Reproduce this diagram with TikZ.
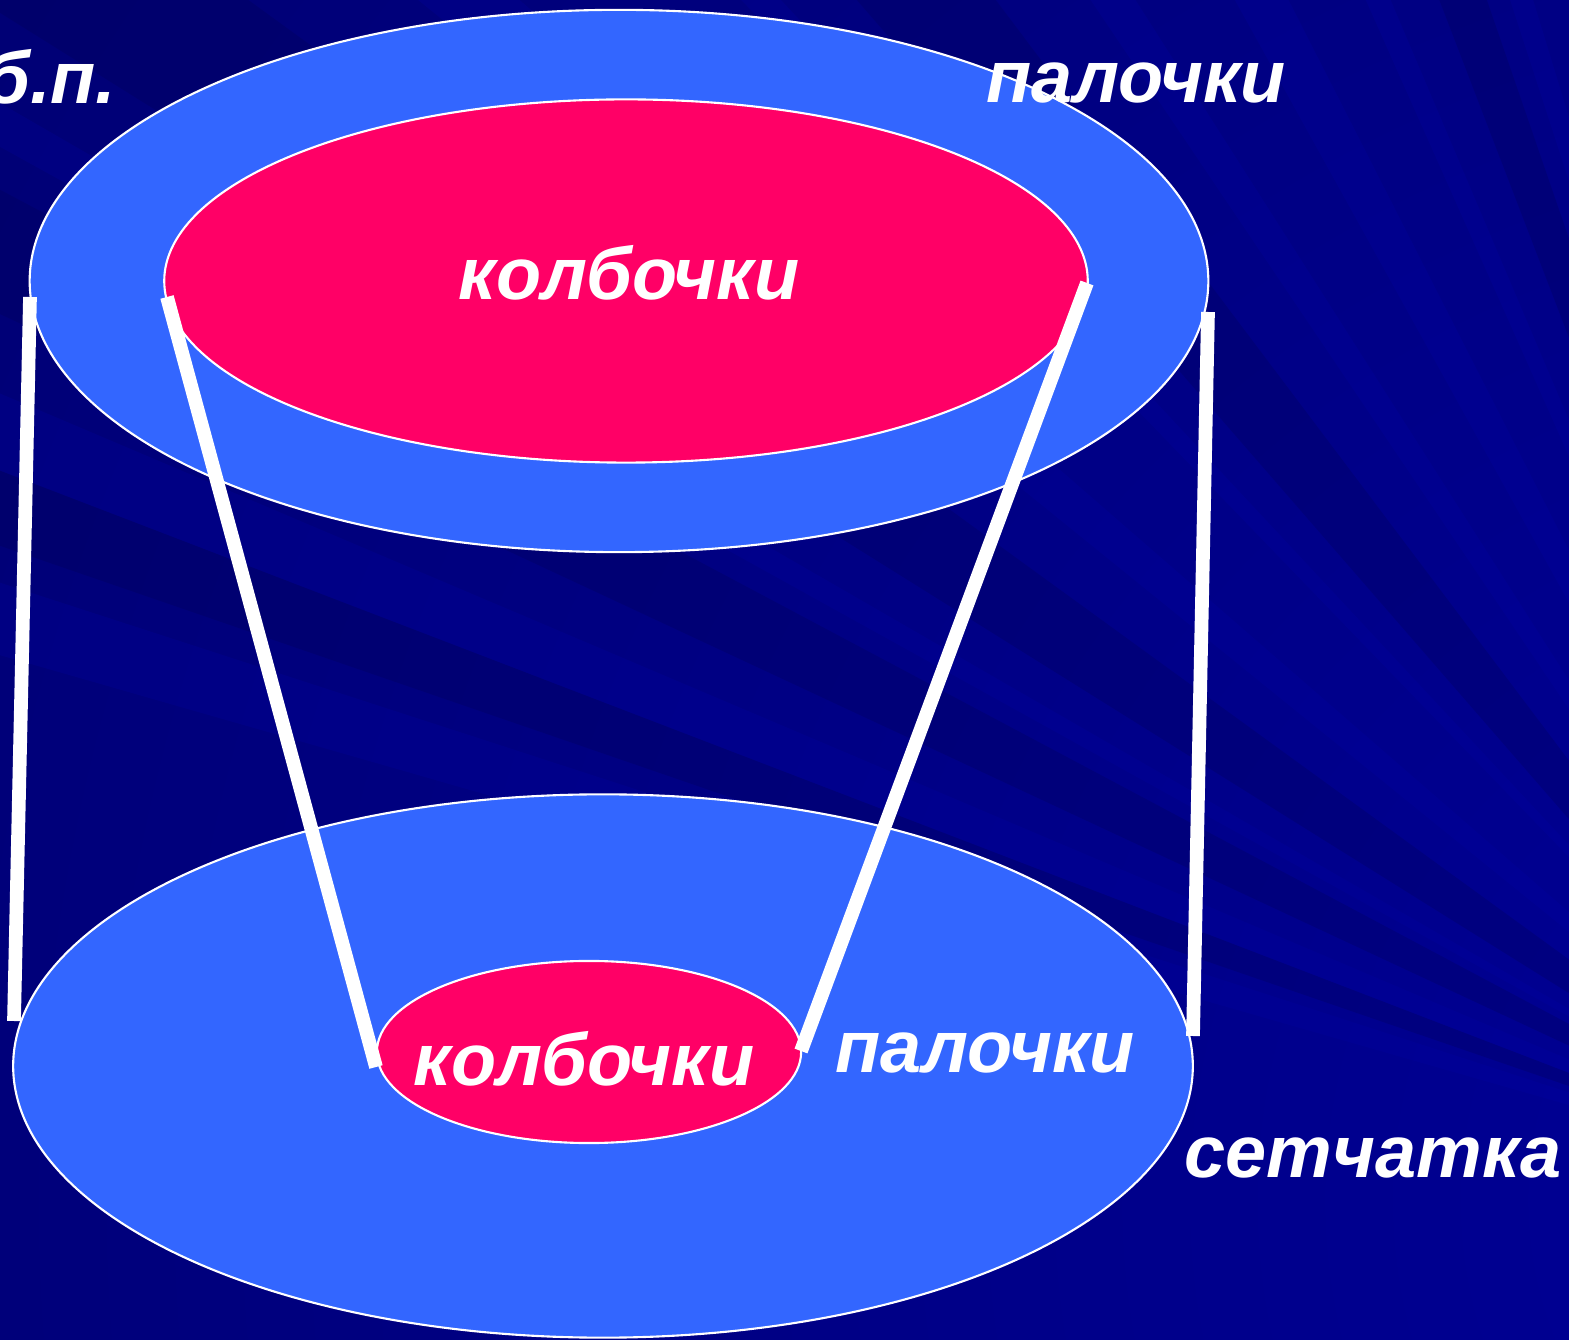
\documentclass[tikz,border=0pt]{standalone}
\usepackage{fontspec}
\usepackage{tikz}
\usetikzlibrary{shapes.geometric}
\newfontfamily\wordfont{Liberation Sans}

\definecolor{deepnavy}{HTML}{000055}
\definecolor{brightnavy}{HTML}{000096}
\definecolor{raylight}{HTML}{0000A8}
\definecolor{raydark}{HTML}{00004A}
\definecolor{ringblue}{HTML}{3366FF}
\definecolor{conepink}{HTML}{FF0066}

\begin{document}
\begin{tikzpicture}[
    x=0.01cm, y=-0.01cm,
    ring/.style={ellipse, draw=white, line width=0.6pt, fill=ringblue, inner sep=0pt},
    spot/.style={ellipse, draw=white, line width=0.6pt, fill=conepink, inner sep=0pt},
    link/.style={draw=white, line width=3.9pt},
    word/.style={text=white, inner sep=0pt,
                 font=\wordfont\bfseries\itshape\fontsize{21}{25}\selectfont}
]
  \useasboundingbox (0,0) rectangle (1569,1340);

  % background with rays
  \begin{scope}
    \clip (0,0) rectangle (1569,1340);
    \shade[inner color=brightnavy, outer color=deepnavy] (1900,1200) circle (4400);
    \foreach \a/\b in {196/198, 201/203, 209/210, 219/221, 226/227, 236/237.5, 241/243, 246/247, 252/253}
      \fill[raylight, opacity=0.22] (1900,1200) -- +(\a:3500) -- +(\b:3500) -- cycle;
    \foreach \a/\b in {199/201, 205/208, 212/216, 229/233, 249/251}
      \fill[raydark, opacity=0.22] (1900,1200) -- +(\a:3500) -- +(\b:3500) -- cycle;
  \end{scope}

  % field of view (top) and retina (bottom)
  \node[ring, minimum width=11.78cm, minimum height=5.42cm] (topOut) at (619,281) {};
  \node[spot, minimum width=9.23cm, minimum height=3.63cm]  (topIn)  at (626,281) {};
  \node[ring, minimum width=11.79cm, minimum height=5.43cm] (botOut) at (603,1066) {};
  \node[spot, minimum width=4.24cm, minimum height=1.82cm]  (botIn)  at (589,1052) {};

  % ends of the projection lines
  \coordinate (a1) at (30,297);
  \coordinate (a2) at (14,1021);
  \coordinate (b1) at (167,297);
  \coordinate (b2) at (376,1067);
  \coordinate (c1) at (1087,283);
  \coordinate (c2) at (801,1051);
  \coordinate (d1) at (1208,312);
  \coordinate (d2) at (1193,1036);

  \draw[link] (a1) -- (a2);
  \draw[link] (b1) -- (b2);
  \draw[link] (c1) -- (c2);
  \draw[link] (d1) -- (d2);

  % labels
  \node[word, anchor=base east] (bp)    at (117,104)  {б.п.};
  \node[word, anchor=base]      (rodsT) at (1136,103) {палочки};
  \node[word, anchor=base]      (conT)  at (629,300)  {колбочки};
  \node[word, anchor=base]      (conB)  at (584,1086) {колбочки};
  \node[word, anchor=base]      (rodsB) at (985,1073) {палочки};
  \node[word, anchor=base]      (ret)   at (1373,1177) {сетчатка};
\end{tikzpicture}
\end{document}
